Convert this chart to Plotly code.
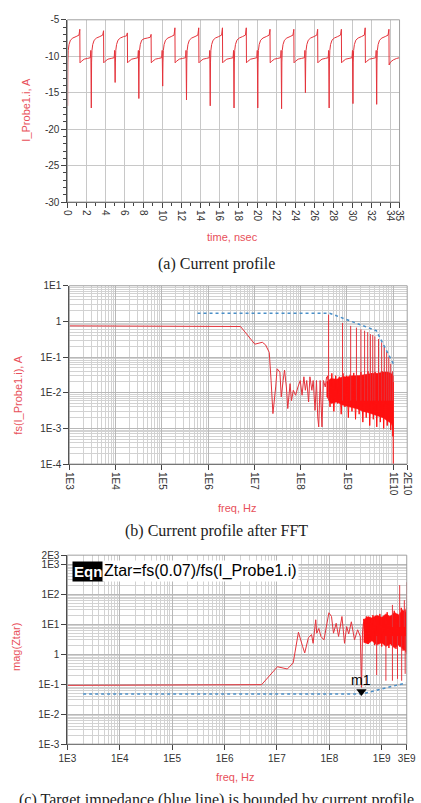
import plotly.graph_objects as go

# ---------------- Panel (a): current profile ----------------
time_ns = [
    0.00, 0.02, 0.05, 0.09, 0.17, 0.32, 0.57, 0.92, 1.22, 1.31, 1.33, 1.47, 1.77, 2.12,
    2.42, 2.47, 2.52, 2.55, 2.59, 2.67, 2.82, 3.07, 3.42, 3.72, 3.81, 3.83, 3.97, 4.27, 4.62,
    4.93, 4.98, 5.03, 5.06, 5.10, 5.18, 5.33, 5.58, 5.93, 6.23, 6.32, 6.34, 6.48, 6.78, 7.13,
    7.43, 7.48, 7.53, 7.56, 7.60, 7.68, 7.83, 8.08, 8.43, 8.73, 8.82, 8.84, 8.98, 9.28, 9.63,
    9.94, 9.99, 10.04, 10.07, 10.11, 10.19, 10.34, 10.59, 10.94, 11.24, 11.33, 11.35, 11.49, 11.79, 12.14,
    12.45, 12.50, 12.55, 12.58, 12.62, 12.70, 12.85, 13.10, 13.45, 13.75, 13.84, 13.86, 14.00, 14.30, 14.65,
    14.95, 15.00, 15.05, 15.08, 15.12, 15.20, 15.35, 15.60, 15.95, 16.25, 16.34, 16.36, 16.50, 16.80, 17.15,
    17.46, 17.51, 17.56, 17.59, 17.63, 17.71, 17.86, 18.11, 18.46, 18.76, 18.85, 18.87, 19.01, 19.31, 19.66,
    19.96, 20.01, 20.06, 20.09, 20.13, 20.21, 20.36, 20.61, 20.96, 21.26, 21.35, 21.37, 21.51, 21.81, 22.16,
    22.47, 22.52, 22.57, 22.60, 22.64, 22.72, 22.87, 23.12, 23.47, 23.77, 23.86, 23.88, 24.02, 24.32, 24.67,
    24.98, 25.03, 25.08, 25.11, 25.15, 25.23, 25.38, 25.63, 25.98, 26.28, 26.37, 26.39, 26.53, 26.83, 27.18,
    27.48, 27.53, 27.58, 27.61, 27.65, 27.73, 27.88, 28.13, 28.48, 28.78, 28.87, 28.89, 29.03, 29.33, 29.68,
    29.99, 30.04, 30.09, 30.12, 30.16, 30.24, 30.39, 30.64, 30.99, 31.29, 31.38, 31.40, 31.54, 31.84, 32.19,
    32.49, 32.54, 32.59, 32.62, 32.66, 32.74, 32.89, 33.14, 33.49, 33.79, 33.88, 33.90, 34.04, 34.34, 34.69, 35.00,
]
current_a = [
    -10.5, -16.8, -10.8, -9.2, -8.4, -7.8, -7.5, -7.3, -7.1, -6.3, -10.9, -10.7, -10.4, -10.3,
    -10.2, -9.2, -17.1, -10.8, -9.2, -8.4, -7.8, -7.5, -7.3, -7.1, -6.5, -10.9, -10.7, -10.4, -10.3,
    -10.2, -9.2, -13.6, -10.8, -9.2, -8.4, -7.8, -7.5, -7.3, -7.2, -6.8, -10.9, -10.7, -10.4, -10.3,
    -10.2, -9.2, -15.8, -10.8, -9.2, -8.4, -7.8, -7.6, -7.5, -7.4, -7.0, -10.9, -10.7, -10.4, -10.3,
    -10.2, -9.2, -14.1, -10.8, -9.2, -8.4, -7.8, -7.5, -7.3, -7.1, -6.1, -10.9, -10.7, -10.4, -10.3,
    -10.2, -9.2, -16.0, -10.8, -9.2, -8.4, -7.8, -7.5, -7.3, -7.1, -6.1, -10.9, -10.7, -10.4, -10.3,
    -10.2, -9.2, -16.8, -10.8, -9.2, -8.4, -7.8, -7.5, -7.3, -7.1, -6.1, -10.9, -10.7, -10.4, -10.3,
    -10.2, -9.2, -17.1, -10.8, -9.2, -8.4, -7.8, -7.5, -7.3, -7.1, -6.1, -10.9, -10.7, -10.4, -10.3,
    -10.2, -9.2, -17.1, -10.8, -9.2, -8.4, -7.8, -7.5, -7.3, -7.1, -6.3, -10.9, -10.7, -10.4, -10.3,
    -10.2, -9.2, -17.2, -10.8, -9.2, -8.4, -7.8, -7.5, -7.3, -7.1, -6.3, -10.9, -10.7, -10.4, -10.3,
    -10.2, -9.2, -15.0, -10.8, -9.2, -8.4, -7.8, -7.5, -7.3, -7.1, -6.3, -10.9, -10.7, -10.4, -10.3,
    -10.2, -9.2, -17.1, -10.8, -9.2, -8.4, -7.8, -7.5, -7.3, -7.1, -6.3, -10.9, -10.7, -10.4, -10.3,
    -10.2, -9.2, -16.5, -10.8, -9.2, -8.4, -7.8, -7.5, -7.3, -7.1, -6.1, -10.9, -10.7, -10.4, -10.3,
    -10.2, -9.2, -16.6, -10.8, -9.2, -8.4, -7.8, -7.5, -7.3, -7.1, -6.3, -11.2, -10.8, -10.5, -10.3, -10.2,
]
a_xtick_vals = [0, 2, 4, 6, 8, 10, 12, 14, 16, 18, 20, 22, 24, 26, 28, 30, 32, 34, 35]
a_xtick_text = ["0", "2", "4", "6", "8", "10", "12", "14", "16", "18", "20", "22", "24", "26", "28", "30", "32", "34", "35"]
a_ytick_vals = [-30, -25, -20, -15, -10, -5]
a_ytick_text = ["-30", "-25", "-20", "-15", "-10", "-5"]

# ---------------- Panel (b): FFT of current ----------------
fft_f = [1e3, 5.0e6, 1.02e7, 1.2e7, 1.48e7, 1.74e7, 2.09e7, 2.29e7, 2.51e7, 2.88e7, 3.09e7,
         3.55e7, 3.80e7, 4.17e7, 4.47e7, 4.90e7, 5.25e7, 5.89e7, 6.3e7, 6.92e7, 7.76e7, 8.71e7,
         9.77e7, 1.07e8, 1.17e8, 1.26e8, 1.35e8, 1.48e8, 1.58e8, 1.74e8, 1.86e8, 2.04e8, 2.19e8,
         2.33e8, 2.45e8, 2.63e8, 2.75e8, 2.88e8, 3.09e8, 3.39e8, 3.63e8]
fft_v = [0.75, 0.72, 0.23, 0.24, 0.26, 0.22, 0.135, 0.022, 0.0026, 0.0145, 0.047,
         0.038, 0.0076, 0.022, 0.043, 0.0145, 0.0036, 0.018, 0.006, 0.0117, 0.0085, 0.0145,
         0.022, 0.0085, 0.028, 0.0117, 0.022, 0.0055, 0.028, 0.0117, 0.022, 0.0032, 0.022,
         0.0021, 0.0011, 0.022, 0.0021, 0.0011, 0.022, 0.0145, 0.028]
fft_band_f = [3.6e8, 4.5e8, 6e8, 8e8, 1.0e9, 1.3e9, 1.7e9, 2.2e9, 2.8e9, 3.6e9, 4.6e9, 6e9, 7.5e9, 9e9, 1.0e10]
fft_band_hi = [0.02, 0.025, 0.024, 0.028, 0.028, 0.03, 0.03, 0.032, 0.033, 0.035, 0.035, 0.038, 0.038, 0.035, 0.03]
fft_band_lo = [0.008, 0.005, 0.0055, 0.0045, 0.004, 0.0038, 0.0035, 0.003, 0.0028, 0.0025, 0.0022, 0.002, 0.0016, 0.0014, 0.001]
fft_noise_f = [3.8e8, 4.3e8, 4.7e8, 5.2e8, 5.7e8, 6.2e8, 6.8e8, 7.5e8, 8.2e8, 9.0e8, 9.8e8, 1.07e9,
               1.17e9, 1.28e9, 1.4e9, 1.53e9, 1.67e9, 1.83e9, 2.0e9, 2.2e9, 2.4e9, 2.6e9, 2.85e9,
               3.1e9, 3.4e9, 3.7e9, 4.05e9, 4.4e9, 4.8e9, 5.25e9, 5.7e9, 6.2e9, 6.8e9, 7.4e9,
               8.1e9, 8.8e9, 9.4e9, 9.8e9, 9.9e9, 1.0e10]
fft_noise_v = [0.03, 0.004, 0.035, 0.003, 0.03, 0.005, 0.028, 0.0025, 0.035, 0.004, 0.03, 0.002,
               0.032, 0.003, 0.036, 0.0018, 0.03, 0.0025, 0.038, 0.0015, 0.033, 0.002, 0.04,
               0.0012, 0.035, 0.0018, 0.038, 0.0011, 0.036, 0.0015, 0.04, 0.001, 0.034, 0.0012,
               0.036, 0.0009, 0.03, 0.0006, 0.02, 0.00005]
fft_spike_f = [4.0e8, 8.0e8, 1.2e9, 1.6e9, 2.0e9, 2.4e9, 2.8e9, 3.2e9, 3.6e9, 4.0e9, 4.8e9,
               5.6e9, 6.4e9, 7.2e9, 8.0e9, 8.8e9, 9.6e9]
fft_spike_v = [1.55, 0.9, 0.75, 0.67, 0.6, 0.55, 0.5, 0.44, 0.42, 0.38, 0.32, 0.26, 0.2, 0.14, 0.1, 0.065, 0.04]
fft_spike_base = 0.006
env_f = [5.9e5, 4.2e8, 4.3e9, 1.02e10]
env_v = [1.7, 1.7, 0.55, 0.062]
b_xtick_vals = [1e3, 1e4, 1e5, 1e6, 1e7, 1e8, 1e9, 1e10, 2e10]
b_xtick_text = ["1E3", "1E4", "1E5", "1E6", "1E7", "1E8", "1E9", "1E10", "2E10"]
b_ytick_vals = [1e-4, 1e-3, 1e-2, 1e-1, 1, 10]
b_ytick_text = ["1E-4", "1E-3", "1E-2", "1E-1", "1", "1E1"]

# ---------------- Panel (c): target impedance ----------------
z_f = [1e3, 6.3e4, 6.5e4, 5.1e6, 1.02e7, 1.58e7, 2.04e7, 2.57e7, 3.09e7, 3.39e7, 3.98e7, 4.57e7,
       4.9e7, 5.5e7, 5.75e7, 6.3e7, 6.9e7, 7.9e7, 9.8e7, 1.1e8, 1.2e8, 1.35e8, 1.5e8, 1.74e8,
       1.95e8, 2.14e8, 2.34e8, 2.63e8, 3.02e8, 3.47e8, 3.9e8, 4.12e8, 4.3e8, 4.5e8]
z_v = [0.091, 0.091, 0.096, 0.096, 0.38, 0.32, 0.51, 5.4, 1.8, 1.1, 3.5, 4.5,
       2.3, 14, 5.0, 7.2, 3.9, 3.0, 24, 18, 5.0, 10.7, 3.9, 18,
       2.3, 8.3, 4.7, 12, 3.0, 6.5, 3.9, 0.078, 6.0, 12]
z_band_f = [4.5e8, 5.5e8, 6.5e8, 8e8, 1.0e9, 1.2e9, 1.45e9, 1.75e9, 2.1e9, 2.5e9, 2.8e9, 3.0e9]
z_band_hi = [14, 18, 16, 20, 17, 22, 18, 25, 20, 30, 25, 40]
z_band_lo = [2.5, 2.2, 2.8, 2.0, 2.4, 1.8, 2.2, 1.6, 2.0, 1.5, 1.3, 1.0]
z_noise_f = [4.5e8, 4.8e8, 5.1e8, 5.5e8, 5.9e8, 6.3e8, 6.8e8, 7.3e8, 7.9e8, 8.5e8, 9.2e8, 1.0e9,
             1.08e9, 1.17e9, 1.27e9, 1.37e9, 1.48e9, 1.6e9, 1.73e9, 1.87e9, 2.02e9, 2.18e9,
             2.36e9, 2.55e9, 2.75e9, 2.97e9, 3.1e9]
z_noise_v = [15, 2.5, 18, 2.2, 14, 3, 20, 2, 16, 2.5, 22, 1.8, 17, 2.2, 25, 1.6, 19, 2, 28, 1.5,
             22, 1.8, 35, 1.3, 30, 1.2, 45]
z_dspike_f = [8e8, 1.2e9, 1.6e9, 2.0e9, 2.4e9, 2.8e9]
z_dspike_v = [0.2, 0.13, 0.13, 0.15, 0.13, 0.22]
z_uspike_f = [1.6e9, 2.2e9, 2.7e9, 2.98e9]
z_uspike_v = [44, 200, 63, 250]
ztar_f = [2e3, 4.2e8, 2.9e9]
ztar_v = [0.047, 0.047, 0.11]
m1_f = [4.1e8]
m1_v = [0.057]
c_xtick_vals = [1e3, 1e4, 1e5, 1e6, 1e7, 1e8, 1e9, 3e9]
c_xtick_text = ["1E3", "1E4", "1E5", "1E6", "1E7", "1E8", "1E9", "3E9"]
c_ytick_vals = [1e-3, 1e-2, 1e-1, 1, 10, 100, 1000, 2000]
c_ytick_text = ["1E-3", "1E-2", "1E-1", "1", "1E1", "1E2", "1E3", "2E3"]

# ---------------- figure ----------------
W, H = 421, 803
def px(x):
    return x / W
def py(y):
    return 1 - y / H

RED = "#e4343c"
BAND = "#ff1010"
BLUE = "#4a8fc8"
TICKF = dict(family="Liberation Sans, Arial, sans-serif", size=10, color="#333333")
TITLEC = "#e8505a"

fig = go.Figure()

# panel a
fig.add_trace(go.Scatter(x=time_ns, y=current_a, mode="lines",
                         line=dict(color=RED, width=1), xaxis="x", yaxis="y", showlegend=False))

# panel b
fig.add_trace(go.Scatter(x=fft_f, y=fft_v, mode="lines", line=dict(color=RED, width=1),
                         xaxis="x2", yaxis="y2", showlegend=False))
fig.add_trace(go.Scatter(x=fft_band_f + fft_band_f[::-1], y=fft_band_hi + fft_band_lo[::-1],
                         mode="lines", fill="toself", fillcolor=BAND, line=dict(color=BAND, width=0.5),
                         xaxis="x2", yaxis="y2", showlegend=False))
fig.add_trace(go.Scatter(x=fft_noise_f, y=fft_noise_v, mode="lines", line=dict(color=BAND, width=1),
                         xaxis="x2", yaxis="y2", showlegend=False))
sx, sy = [], []
for f, v in zip(fft_spike_f, fft_spike_v):
    sx += [f, f, None]
    sy += [fft_spike_base, v, None]
fig.add_trace(go.Scatter(x=sx, y=sy, mode="lines", line=dict(color=RED, width=1),
                         xaxis="x2", yaxis="y2", showlegend=False, connectgaps=False))
fig.add_trace(go.Scatter(x=env_f, y=env_v, mode="lines", line=dict(color=BLUE, width=1.5, dash="dot"),
                         xaxis="x2", yaxis="y2", showlegend=False))

# panel c
fig.add_trace(go.Scatter(x=z_f, y=z_v, mode="lines", line=dict(color=RED, width=1),
                         xaxis="x3", yaxis="y3", showlegend=False))
fig.add_trace(go.Scatter(x=z_band_f + z_band_f[::-1], y=z_band_hi + z_band_lo[::-1],
                         mode="lines", fill="toself", fillcolor=BAND, line=dict(color=BAND, width=0.5),
                         xaxis="x3", yaxis="y3", showlegend=False))
fig.add_trace(go.Scatter(x=z_noise_f, y=z_noise_v, mode="lines", line=dict(color=BAND, width=1),
                         xaxis="x3", yaxis="y3", showlegend=False))
dx, dy = [], []
for f, v in zip(z_dspike_f, z_dspike_v):
    dx += [f, f, None]
    dy += [4.0, v, None]
for f, v in zip(z_uspike_f, z_uspike_v):
    dx += [f, f, None]
    dy += [8.0, v, None]
fig.add_trace(go.Scatter(x=dx, y=dy, mode="lines", line=dict(color=RED, width=1),
                         xaxis="x3", yaxis="y3", showlegend=False, connectgaps=False))
fig.add_trace(go.Scatter(x=ztar_f, y=ztar_v, mode="lines", line=dict(color=BLUE, width=1.5, dash="dot"),
                         xaxis="x3", yaxis="y3", showlegend=False))
fig.add_trace(go.Scatter(x=m1_f, y=m1_v, mode="markers",
                         marker=dict(symbol="triangle-down", size=9, color="black"),
                         xaxis="x3", yaxis="y3", showlegend=False))

def log_minor(d0, d1):
    vals = []
    for d in range(d0, d1 + 1):
        for k in range(2, 10):
            vals.append(k * 10.0 ** d)
    return vals

common_axis = dict(showline=True, linecolor="#444444", linewidth=1, ticks="outside",
                   ticklen=5, tickcolor="#444444", tickfont=TICKF, zeroline=False)

fig.update_layout(
    width=W, height=H, margin=dict(l=0, r=0, t=0, b=0),
    paper_bgcolor="white", plot_bgcolor="white", showlegend=False,
    xaxis=dict(domain=[px(61), px(408)], range=[0, 35], anchor="y",
               tickmode="array", tickvals=a_xtick_vals, ticktext=a_xtick_text, tickangle=90,
               showgrid=True, gridcolor="#c8c8c8", gridwidth=1,
               minor=dict(tickvals=list(range(0, 36)), ticks="outside", ticklen=3,
                          tickcolor="#444444", showgrid=False),
               **common_axis),
    yaxis=dict(domain=[py(199), py(14)], range=[-30, -5], anchor="x",
               tickmode="array", tickvals=a_ytick_vals, ticktext=a_ytick_text,
               showgrid=True, gridcolor="#c8c8c8", gridwidth=1,
               minor=dict(tickvals=list(range(-30, -4)), ticks="outside", ticklen=3,
                          tickcolor="#444444", showgrid=False),
               **common_axis),
    xaxis2=dict(domain=[px(63), px(416)], type="log", range=[3, 10.30103], anchor="y2",
                tickmode="array", tickvals=b_xtick_vals, ticktext=b_xtick_text, tickangle=90,
                showgrid=True, gridcolor="#b8b8b8", gridwidth=1,
                minor=dict(tickvals=log_minor(3, 10), showgrid=True, gridcolor="#d2d2d2", ticks=""),
                **common_axis),
    yaxis2=dict(domain=[py(465), py(284)], type="log", range=[-4, 1], anchor="x2",
                tickmode="array", tickvals=b_ytick_vals, ticktext=b_ytick_text,
                showgrid=True, gridcolor="#b8b8b8", gridwidth=1,
                minor=dict(tickvals=log_minor(-4, 0), showgrid=True, gridcolor="#d2d2d2", ticks=""),
                **common_axis),
    xaxis3=dict(domain=[px(61), px(415.5)], type="log", range=[3, 9.4771], anchor="y3",
                tickmode="array", tickvals=c_xtick_vals, ticktext=c_xtick_text, tickangle=0,
                showgrid=True, gridcolor="#b8b8b8", gridwidth=1,
                minor=dict(tickvals=log_minor(3, 9), showgrid=True, gridcolor="#d2d2d2", ticks=""),
                **common_axis),
    yaxis3=dict(domain=[py(749.3), py(557.5)], type="log", range=[-3, 3.30103], anchor="x3",
                tickmode="array", tickvals=c_ytick_vals, ticktext=c_ytick_text,
                showgrid=True, gridcolor="#b8b8b8", gridwidth=1,
                minor=dict(tickvals=log_minor(-3, 2), showgrid=True, gridcolor="#d2d2d2", ticks=""),
                **common_axis),
)

# gray frames
for xr, yr in [("x domain", "y domain"), ("x2 domain", "y2 domain"), ("x3 domain", "y3 domain")]:
    fig.add_shape(type="rect", xref=xr, yref=yr, x0=0, x1=1, y0=0, y1=1,
                  line=dict(color="#a0a0a0", width=1), layer="above")

ann = []
TF = "Liberation Sans, Arial, sans-serif"
SERIF = "Liberation Serif, Times New Roman, serif"
def title(text, x, y, angle=0):
    ann.append(dict(text=text, x=px(x), y=py(y), xref="paper", yref="paper", showarrow=False,
                    textangle=angle, xanchor="center", yanchor="middle",
                    font=dict(family=TF, size=11, color=TITLEC)))
def caption(text, x, y):
    ann.append(dict(text=text, x=px(x), y=py(y), xref="paper", yref="paper", showarrow=False,
                    xanchor="center", yanchor="middle",
                    font=dict(family=SERIF, size=16, color="#222222")))

title("I_Probe1.i, A", 18, 105, -90)
title("time, nsec", 234, 234)
caption("(a) Current profile", 216.5, 262)
title("fs(I_Probe1.i), A", 10, 395, -90)
title("freq, Hz", 239, 510)
caption("(b) Current profile after FFT", 216.5, 533)
title("mag(Ztar)", 8, 651, -90)
title("freq, Hz", 237, 783)
caption("(c) Target impedance (blue line) is bounded by current profile", 216.5, 806)

ann.append(dict(text="<b>Eqn</b>", x=px(66), y=py(574), xref="paper", yref="paper", showarrow=False,
                xanchor="left", yanchor="middle", bgcolor="black", borderpad=1,
                font=dict(family=TF, size=15, color="white")))
ann.append(dict(text="Ztar=fs(0.07)/fs(I_Probe1.i)", x=px(97), y=py(574), xref="paper", yref="paper",
                showarrow=False, xanchor="left", yanchor="middle", bgcolor="white", borderpad=1,
                font=dict(family=TF, size=16, color="black")))
ann.append(dict(text="m1", x=8.6128, y=-0.86, xref="x3", yref="y3", showarrow=False,
                xanchor="center", yanchor="middle", font=dict(family=TF, size=14, color="black")))

fig.update_layout(annotations=ann)
fig.write_html("out.html")
